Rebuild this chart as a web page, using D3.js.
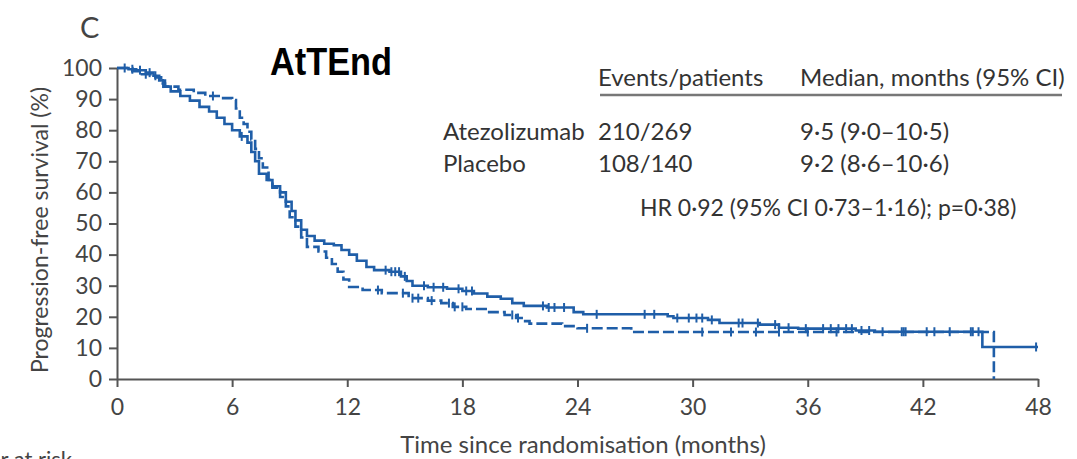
<!DOCTYPE html>
<html>
<head>
<meta charset="utf-8">
<script src="https://cdn.jsdelivr.net/npm/d3@7"></script>
<style>
  body { margin: 0; background: #fff; }
  svg text { font-family: Lato, "Noto Sans", sans-serif; }
</style>
</head>
<body>
<div id="chart"></div>
<script>
// x ticks (months) and y ticks (%)
var xTicks = [0, 6, 12, 18, 24, 30, 36, 42, 48];
var yTicks = [0, 10, 20, 30, 40, 50, 60, 70, 80, 90, 100];

// Atezolizumab (solid) - step times / survival after step
var atezoTimes = [0, 0.6, 1.0, 1.5, 1.9, 2.2, 2.5, 2.8, 3.3, 3.8, 4.3, 4.8, 5.2, 5.6, 6.0, 6.4, 6.8, 7.0, 7.2, 7.4,
    7.8, 8.1, 8.5, 8.8, 9.1, 9.3, 9.6, 9.9, 10.3, 10.8, 11.3, 11.7, 12.1, 12.5, 13.0, 13.4, 14.2, 14.8, 15.1, 15.4,
    16.2, 17.2, 18.0, 18.6, 19.3, 20.0, 20.6, 21.2, 22.4, 23.8, 24.3, 28.7, 29.0, 30.8, 31.4, 33.5, 34.5, 35.5,
    38.5, 39.5, 45.1, 48];
var atezoSurv = [100, 99.6, 99.3, 98.5, 97.5, 96, 94, 92.5, 91, 89.5, 87.5, 86, 84, 82, 80, 78, 76, 73, 70, 66,
    64, 62, 60, 57, 54, 51, 48, 46, 44.5, 43.5, 43, 41.5, 40, 38, 36, 35, 34.5, 33, 31.5, 30,
    29.5, 29, 28.3, 27.5, 26.5, 25.8, 24.4, 23.5, 23, 21.5, 20.8, 20.2, 19.6, 19, 18, 17.5, 16.5, 16.2,
    15.6, 15.2, 10.3, 10.3];
var atezoCensor = [0.4, 0.8, 1.2, 1.7, 2.0, 6.5, 14.0, 14.3, 14.5, 14.7, 15.0, 16.0, 16.5, 17.0, 17.8, 18.2, 18.5,
    22.2, 22.5, 22.8, 23.3, 25.0, 27.5, 28.0, 29.2, 29.8, 30.2, 30.5, 31.0, 32.4, 32.6, 33.4, 34.3, 34.5, 35.0,
    35.9, 36.8, 37.2, 37.6, 38.0, 38.3, 38.8, 39.2, 39.9, 40.9, 41.0, 41.1, 42.2, 42.6, 43.4, 44.5, 44.6, 44.9, 47.9];

// Placebo (dashed)
var placeboTimes = [0, 0.8, 1.3, 2.0, 2.3, 2.5, 3.2, 4.0, 4.6, 5.3, 6.0, 6.2, 6.4, 6.6, 6.8, 7.0, 7.2, 7.4, 7.6,
    7.9, 8.1, 8.5, 8.8, 9.0, 9.3, 9.6, 9.9, 10.5, 10.9, 11.2, 11.5, 11.8, 12.1, 12.8, 13.8, 15.2, 16.2, 16.9,
    17.5, 18.2, 19.3, 20.2, 20.8, 21.2, 21.5, 23.2, 24.0, 26.8, 45.7];
var placeboSurv = [100, 99, 98, 97, 95, 94, 93, 92, 91, 90.3, 89.7, 87, 84, 82, 79.5, 77, 74, 71, 68,
    64, 61.5, 58.5, 55.5, 52, 49, 45.5, 42.5, 41, 39, 37, 34.5, 32, 29.6, 28.6, 27.6, 26, 25.2, 24.4,
    23.2, 22.5, 21.5, 20.6, 19.6, 18.6, 17.8, 17, 16.3, 15.1, 0];
var placeboCensor = [1.5, 2.4, 5.0, 13.6, 14.9, 15.4, 15.7, 16.4, 17.3, 17.6, 18.0, 20.6, 20.9, 24.5, 30.5, 32.0,
    33.3, 34.5, 36.0, 37.5];

// legend table
var tableHead = ["Events/patients", "Median, months (95% CI)"];
var tableGroups = ["Atezolizumab", "Placebo"];
var tableEvents = ["210/269", "108/140"];
var tableMedian = ["9·5 (9·0–10·5)", "9·2 (8·6–10·6)"];
var hrText = "HR 0·92 (95% CI 0·73–1·16); p=0·38)";

var width = 1077, height = 459;
var blue = "#1f5ea8";

var svg = d3.select('#chart').append('svg')
    .attr('width', width)
    .attr('height', height);

var x = d3.scaleLinear().domain([0, 48]).range([117, 1038]);
var y = d3.scaleLinear().domain([0, 100]).range([379, 68]);

// axes
var xAxis = svg.append('g')
    .attr('transform', 'translate(0,' + y(0) + ')')
    .call(d3.axisBottom(x).tickValues(xTicks).tickSize(8).tickSizeOuter(0).tickPadding(12));
var yAxis = svg.append('g')
    .attr('transform', 'translate(' + x(0) + ',0)')
    .call(d3.axisLeft(y).tickValues(yTicks).tickSize(8).tickSizeOuter(0).tickPadding(7));

[xAxis, yAxis].forEach(function (g) {
    g.select('.domain').attr('stroke', '#555').attr('stroke-width', 2);
    g.selectAll('.tick line').attr('stroke', '#555').attr('stroke-width', 2);
    g.selectAll('.tick text').attr('fill', '#444').style('font-size', '23px').style('font-family', 'Lato');
});

// axis titles
svg.append('text')
    .attr('x', 583)
    .attr('y', 453)
    .attr('text-anchor', 'middle')
    .attr('fill', '#444')
    .style('font-size', '24px')
    .text('Time since randomisation (months)');

svg.append('text')
    .attr('transform', 'translate(48,' + 230 + ') rotate(-90)')
    .attr('text-anchor', 'middle')
    .attr('fill', '#444')
    .style('font-size', '23px')
    .text('Progression-free survival (%)');

// panel letter + title
svg.append('text')
    .attr('x', 80).attr('y', 38)
    .attr('fill', '#444')
    .style('font-size', '29px')
    .text('C');

svg.append('text')
    .attr('x', 270).attr('y', 75)
    .attr('fill', '#000')
    .attr('textLength', 122)
    .attr('lengthAdjust', 'spacingAndGlyphs')
    .style('font-family', '"Liberation Sans", Arial, sans-serif')
    .style('font-weight', 'bold')
    .style('font-size', '38px')
    .text('AtTEnd');

// cut-off text at the bottom
svg.append('text')
    .attr('x', 72).attr('y', 467)
    .attr('text-anchor', 'end')
    .attr('fill', '#444')
    .style('font-size', '22px')
    .text('Number at risk');

// KM curves
var line = d3.line()
    .x(function (d) { return x(d[0]); })
    .y(function (d) { return y(d[1]); })
    .curve(d3.curveStepAfter);

var atezo = d3.zip(atezoTimes, atezoSurv);
var placebo = d3.zip(placeboTimes, placeboSurv);

svg.append('path')
    .datum(atezo)
    .attr('d', line)
    .attr('fill', 'none')
    .attr('stroke', blue)
    .attr('stroke-width', 2.6);

svg.append('path')
    .datum(placebo)
    .attr('d', line)
    .attr('fill', 'none')
    .attr('stroke', blue)
    .attr('stroke-width', 2.6)
    .attr('stroke-dasharray', '11,4');

// survival value at time t (step after)
var survAt = function (times, surv, t) {
    var i = d3.bisectRight(times, t) - 1;
    return surv[Math.max(0, i)];
};

svg.selectAll('line.censA').data(atezoCensor)
    .enter().append('line')
    .attr('class', 'censA')
    .attr('x1', function (d) { return x(d); })
    .attr('x2', function (d) { return x(d); })
    .attr('y1', function (d) { return y(survAt(atezoTimes, atezoSurv, d)) - 4.5; })
    .attr('y2', function (d) { return y(survAt(atezoTimes, atezoSurv, d)) + 4.5; })
    .attr('stroke', blue)
    .attr('stroke-width', 2);

svg.selectAll('line.censP').data(placeboCensor)
    .enter().append('line')
    .attr('class', 'censP')
    .attr('x1', function (d) { return x(d); })
    .attr('x2', function (d) { return x(d); })
    .attr('y1', function (d) { return y(survAt(placeboTimes, placeboSurv, d)) - 4.5; })
    .attr('y2', function (d) { return y(survAt(placeboTimes, placeboSurv, d)) + 4.5; })
    .attr('stroke', blue)
    .attr('stroke-width', 2);

// legend table
var col0 = 443, col1 = 598, col2 = 800;
var tbl = svg.append('g').attr('fill', '#333').style('font-size', '24px');

tbl.append('text').attr('x', col1).attr('y', 86).text(tableHead[0]);
tbl.append('text').attr('x', col2).attr('y', 86).text(tableHead[1]);

svg.append('line')
    .attr('x1', 600).attr('x2', 1062)
    .attr('y1', 95).attr('y2', 95)
    .attr('stroke', '#777')
    .attr('stroke-width', 2.5);

tableGroups.forEach(function (g, i) {
    var yy = 140 + i * 32;
    tbl.append('text').attr('x', col0).attr('y', yy).text(g);
    tbl.append('text').attr('x', col1).attr('y', yy).text(tableEvents[i]);
    tbl.append('text').attr('x', col2).attr('y', yy).text(tableMedian[i]);
});

tbl.append('text').attr('x', 640).attr('y', 216).style('font-size', '23px').text(hrText);
</script>
</body>
</html>
